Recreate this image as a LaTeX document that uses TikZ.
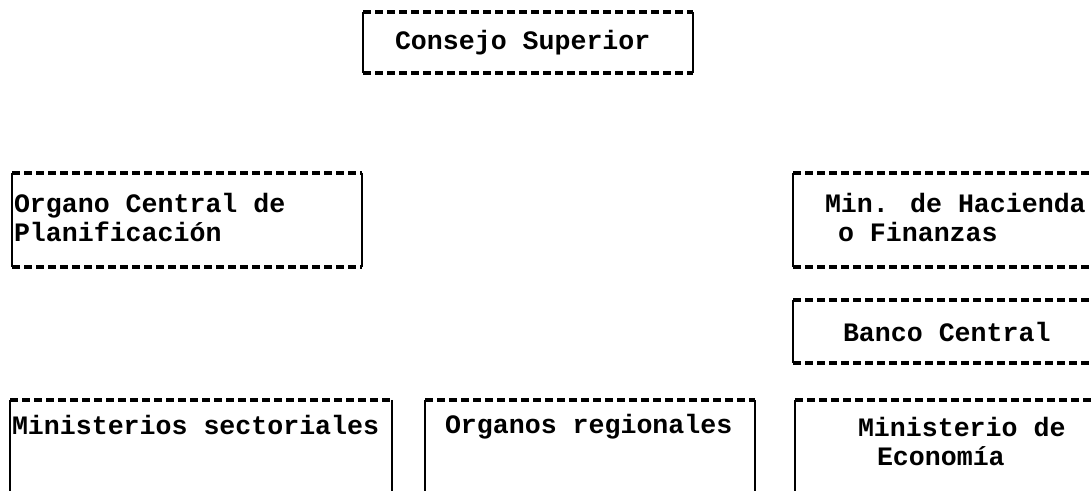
\documentclass[tikz,border=0pt]{standalone}
\usepackage{fontspec}
\newfontfamily\maquina{Liberation Mono}
\usetikzlibrary{positioning}

\begin{document}
\begin{tikzpicture}[x=0.5pt, y=-0.5pt, every node/.style={inner sep=0,outer sep=0},
		caja/.style={draw=none,fill=none,anchor=north west},
		texto/.style={font=\maquina\bfseries\fontsize{13.3}{14.5}\selectfont, align=left},
		tapa/.style={line width=1.6pt, dash pattern=on 4pt off 2pt},
		lado/.style={line width=1.3pt}]
		
		\useasboundingbox (0,0) rectangle (1092,491);
		\clip (0,0) rectangle (1092,491);
		
		%Boxes
		\node[caja, minimum width=165pt, minimum height=30.5pt] (cs) at (363,12) {};
		\node[caja, minimum width=175pt, minimum height=47pt] (oc) at (12,173) {};
		\node[caja, minimum width=160pt, minimum height=47pt] (mh) at (793,173) {};
		\node[caja, minimum width=160pt, minimum height=31.5pt] (bc) [below=16.5pt of mh.south west, anchor=north west] {};
		\node[caja, minimum width=191pt, minimum height=60pt] (ms) at (10,400) {};
		\node[caja, minimum width=165pt, minimum height=60pt] (og) [right=16.5pt of ms.north east, anchor=north west] {};
		\node[caja, minimum width=160pt, minimum height=60pt] (me) [right=20pt of og.north east, anchor=north west] {};
		
		%Texts
		\node[texto] (tcs) [right=16pt of cs.west] {Consejo Superior};
		\node[texto] (toc) [right=1pt of oc.west, yshift=1.5pt] {Organo Central de\\Planificación};
		\node[texto] (tmh) [right=16pt of mh.west, yshift=1.5pt] {Min. de Hacienda\\\hspace*{6.5pt}o Finanzas};
		\node[texto] (tbc) [right=25pt of bc.west] {Banco Central};
		\node[texto] (tms) [right=1pt of ms.north west, anchor=west, yshift=-12.5pt] {Ministerios sectoriales};
		\node[texto] (tog) [right=10pt of og.north west, anchor=west, yshift=-13.5pt] {Organos regionales};
		\node[texto] (tme) [right=31.5pt of me.north west, anchor=west, yshift=-20.5pt] {Ministerio de\\\hspace*{9.5pt}Economía};
		
		%Lines
		\draw[tapa] (cs.north west) -- (cs.north east);
		\draw[tapa] (cs.south west) -- (cs.south east);
		\draw[lado] (cs.north west) -- (cs.south west);
		\draw[lado] (cs.north east) -- (cs.south east);
		\draw[tapa] (oc.north west) -- (oc.north east);
		\draw[tapa] (oc.south west) -- (oc.south east);
		\draw[lado] (oc.north west) -- (oc.south west);
		\draw[lado] (oc.north east) -- (oc.south east);
		\draw[tapa] (mh.north west) -- (mh.north east);
		\draw[tapa] (mh.south west) -- (mh.south east);
		\draw[lado] (mh.north west) -- (mh.south west);
		\draw[tapa] (bc.north west) -- (bc.north east);
		\draw[tapa] (bc.south west) -- (bc.south east);
		\draw[lado] (bc.north west) -- (bc.south west);
		\draw[tapa] (ms.north west) -- (ms.north east);
		\draw[lado] (ms.north west) -- (ms.south west);
		\draw[lado] (ms.north east) -- (ms.south east);
		\draw[tapa] (og.north west) -- (og.north east);
		\draw[lado] (og.north west) -- (og.south west);
		\draw[lado] (og.north east) -- (og.south east);
		\draw[tapa] (me.north west) -- (me.north east);
		\draw[lado] (me.north west) -- (me.south west);
	\end{tikzpicture}
\end{document}
